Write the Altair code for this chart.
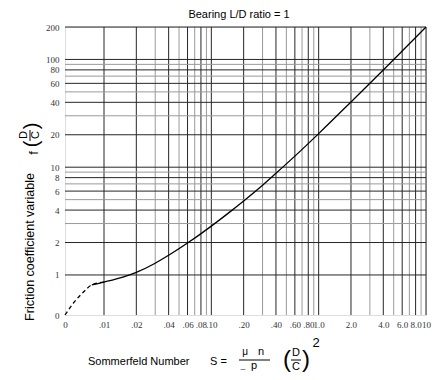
import json
import altair as alt
import pandas as pd

# ---- data -------------------------------------------------------------
# position used for the "0" origin on each log axis (axis break)
X0 = 0.00433
Y0 = 0.425

S_DASH = [0, 0.0052, 0.0064, 0.0077, 0.01]
F_DASH = [0, 0.55, 0.69, 0.81, 0.86]
S_SOLID = [0.0077, 0.01, 0.015, 0.02, 0.03, 0.04, 0.06, 0.1, 0.15, 0.2,
           0.3, 0.4, 0.6, 1.0, 2.0, 4.0, 6.0, 10]
F_SOLID = [0.81, 0.86, 0.955, 1.058, 1.285, 1.523, 1.977, 2.84, 3.87, 4.86,
           6.8, 8.78, 12.67, 20.5, 40.3, 79.8, 119.7, 200]

X_TICKS = [0, .01, .02, .04, .06, .08, .1, .2, .4, .6, .8, 1, 2, 4, 6, 8, 10]
X_LABELS = ["0", ".01", ".02", ".04", ".06", ".08", ".10", ".20", ".40",
            ".60", ".80", "1.0", "2.0", "4.0", "6.0", "8.0", "10"]
Y_TICKS = [0, 1, 2, 4, 6, 8, 10, 20, 40, 60, 80, 100, 200]
Y_LABELS = ["0", "1", "2", "4", "6", "8", "10", "20", "40", "60", "80", "100", "200"]

GRID_X = [.01, .02, .03, .04, .05, .06, .07, .08, .09,
          .1, .2, .3, .4, .5, .6, .7, .8, .9,
          1, 2, 3, 4, 5, 6, 7, 8, 9, 10]
GRID_Y = [1, 2, 3, 4, 5, 6, 7, 8, 9,
          10, 20, 30, 40, 50, 60, 70, 80, 90, 100, 200]

# ---- tables --------------------------------------------------------------
dash_df = pd.DataFrame({"S": S_DASH, "f": F_DASH})
solid_df = pd.DataFrame({"S": S_SOLID, "f": F_SOLID})
gx_df = pd.DataFrame({"S": GRID_X, "major": [v in X_TICKS for v in GRID_X]})
gy_df = pd.DataFrame({"f": GRID_Y, "major": [v in Y_TICKS for v in GRID_Y]})
one = pd.DataFrame({"a": [0]})

xvals = [X0 if v == 0 else v for v in X_TICKS]
yvals = [Y0 if v == 0 else v for v in Y_TICKS]

W, H = 361, 288
xscale = alt.Scale(type="log", domain=[X0, 10], nice=False)
yscale = alt.Scale(type="log", domain=[Y0, 200], nice=False)

LABEL_FONT = "Liberation Serif"
xaxis = alt.Axis(values=xvals, title=None, grid=False, ticks=False, domain=False,
                 labelExpr=f"{json.dumps(X_LABELS)}[indexof({json.dumps(xvals)}, datum.value)]",
                 labelFont=LABEL_FONT, labelFontSize=9, labelColor="#333",
                 labelPadding=5, labelOverlap=False, labelFlush=False, labelBound=False)
yaxis = alt.Axis(values=yvals, title=None, grid=False, ticks=False, domain=False,
                 labelExpr=f"{json.dumps(Y_LABELS)}[indexof({json.dumps(yvals)}, datum.value)]",
                 labelFont=LABEL_FONT, labelFontSize=9, labelColor="#333",
                 labelPadding=6, labelOverlap=False, labelFlush=False, labelBound=False)

shade = alt.Color("major:N", scale=alt.Scale(domain=[True, False], range=["#262626", "#9a9a9a"]), legend=None)

grid_x = alt.Chart(gx_df).mark_rule(strokeWidth=1).encode(
    x=alt.X("S:Q", scale=xscale, axis=xaxis), color=shade)
grid_y = alt.Chart(gy_df).mark_rule(strokeWidth=1).encode(
    y=alt.Y("f:Q", scale=yscale, axis=yaxis), color=shade)

def curve(df, dash):
    kw = {"strokeDash": [4, 3]} if dash else {}
    return alt.Chart(df).transform_calculate(
        xs=f"max(datum.S, {X0})", ys=f"max(datum.f, {Y0})"
    ).mark_line(color="black", strokeWidth=1.3, interpolate="monotone", **kw).encode(
        x=alt.X("xs:Q", scale=xscale, axis=xaxis),
        y=alt.Y("ys:Q", scale=yscale, axis=yaxis),
    )

OX, OY = 65, 27  # page position of plot origin (for annotation text)

def txt(s, px, py, size=11, angle=0, align="center", font="Liberation Sans", baseline="middle"):
    return alt.Chart(one).mark_text(text=s, fontSize=size, angle=angle, align=align,
                                    baseline=baseline, font=font, color="black").encode(
        x=alt.value(px - OX), y=alt.value(py - OY))

def hbar(x1, x2, py):
    return alt.Chart(one).mark_rule(color="black", strokeWidth=1).encode(
        x=alt.value(x1 - OX), x2=alt.value(x2 - OX), y=alt.value(py - OY))

def vbar(px, y1, y2):
    return alt.Chart(one).mark_rule(color="black", strokeWidth=1).encode(
        x=alt.value(px - OX), y=alt.value(y1 - OY), y2=alt.value(y2 - OY))

annot = [
    txt("Bearing L/D ratio = 1", 239, 15, size=11),
    txt("Friction coefficient variable", 30, 247, size=12.5, angle=270),
    txt("f", 34, 153, size=13, angle=270),
    txt("(", 32, 144, size=20, angle=270),
    txt("D", 24, 135, size=11, angle=270),
    vbar(30, 130, 141),
    txt("C", 36, 135, size=11, angle=270),
    txt(")", 32, 126, size=20, angle=270),
    txt("Sommerfeld Number", 88, 362, size=11, align="left"),
    txt("S =", 210, 362, size=11, align="left"),
    txt("\u03bc", 245, 352, size=10),
    txt("n", 261, 352, size=11),
    hbar(239, 270, 360),
    txt("_", 243, 366, size=8),
    txt("p", 254, 366, size=11),
    txt("(", 287, 360, size=24),
    txt("D", 296, 353, size=11),
    hbar(291, 301, 360),
    txt("C", 296, 367, size=11),
    txt(")", 306, 360, size=24),
    txt("2", 316, 343, size=13),
]

chart = alt.layer(grid_x, grid_y, curve(dash_df, True), curve(solid_df, False), *annot).properties(
    width=W, height=H,
    autosize=alt.AutoSizeParams(type="none"),
    padding={"left": 57, "top": 19, "right": 14, "bottom": 57},
).configure_view(stroke="black", strokeWidth=1.2).configure(background="white")

chart.save("out.html", embed_options={"renderer": "svg", "actions": False})
